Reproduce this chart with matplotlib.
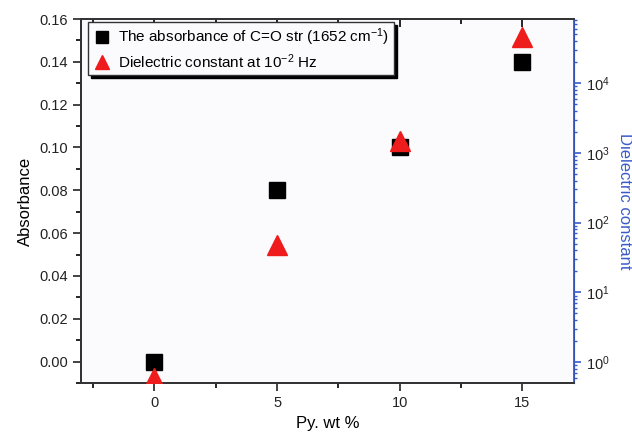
import numpy as np
import matplotlib
matplotlib.use("Agg")
import matplotlib.pyplot as plt
from matplotlib.ticker import MultipleLocator, LogLocator, NullFormatter

plt.rcParams["font.family"] = ["Liberation Sans", "DejaVu Sans"]
plt.rcParams["mathtext.default"] = "regular"

# dati
py_wt = [0, 5, 10, 15]
absorbance = [0.000, 0.080, 0.100, 0.140]
dielectric = [0.6, 48, 1500, 46000]

fig = plt.figure(figsize=(6.32, 4.38), dpi=100)
fig.patch.set_facecolor("white")
ax = fig.add_axes([0.128, 0.1256, 0.78, 0.831])
ax.set_facecolor("#fbfbfd")
ax2 = ax.twinx()

l1, = ax.plot(py_wt, absorbance, "s", color="black", markersize=11.5,
              label="The absorbance of C=O str (1652 cm$^{-1}$)", zorder=3)
l2, = ax2.plot(py_wt, dielectric, "^", color="#ee1c1c", markersize=14,
               label="Dielectric constant at 10$^{-2}$ Hz", zorder=4)

ax.set_xlim(-3, 17.1)
ax.set_ylim(-0.01, 0.16)
ax.xaxis.set_major_locator(MultipleLocator(5))
ax.xaxis.set_minor_locator(MultipleLocator(2.5))
ax.yaxis.set_major_locator(MultipleLocator(0.02))
ax.yaxis.set_minor_locator(MultipleLocator(0.01))
ax.yaxis.set_major_formatter(matplotlib.ticker.FormatStrFormatter("%.2f"))
ax.tick_params(axis="both", which="major", direction="out", length=6, width=1.2,
               labelsize=10.5, colors="#222222")
ax.tick_params(axis="both", which="minor", direction="out", length=3.5, width=1.2)
ax.set_xlabel("Py. wt %", fontsize=12)
ax.set_ylabel("Absorbance", fontsize=12)

ax2.set_yscale("log")
ax2.set_ylim(10 ** -0.30, 10 ** 4.92)
ax2.yaxis.set_major_locator(LogLocator(base=10, numticks=10))
ax2.yaxis.set_minor_locator(LogLocator(base=10, subs=np.arange(2, 10), numticks=10))
ax2.yaxis.set_minor_formatter(NullFormatter())
ax2.tick_params(axis="y", which="major", direction="out", length=5, width=1.2,
                color="#3a5bc7", labelsize=10.5, labelcolor="#222222")
ax2.tick_params(axis="y", which="minor", direction="out", length=2.5, width=1,
                color="#3a5bc7")
ax2.set_ylabel("Dielectric constant", fontsize=12, color="#3a5bc7",
               rotation=270, labelpad=16)
ax2.spines["right"].set_color("#3a5bc7")
ax2.spines["right"].set_linewidth(1.3)

for s in ["left", "bottom", "top"]:
    ax.spines[s].set_linewidth(1.3)
    ax2.spines[s].set_linewidth(1.3)
    ax.spines[s].set_color("#333333")
    ax2.spines[s].set_color("#333333")

# tick sul lato superiore verso l'interno
secx = ax.secondary_xaxis("top")
secx.xaxis.set_major_locator(MultipleLocator(5))
secx.xaxis.set_minor_locator(MultipleLocator(2.5))
secx.tick_params(which="major", direction="in", length=6, width=1.2, labeltop=False)
secx.tick_params(which="minor", direction="in", length=3.5, width=1.2)
secx.spines["top"].set_visible(False)

leg = ax2.legend(handles=[l1, l2], loc="upper left", bbox_to_anchor=(0.014, 0.992),
                 borderaxespad=0.0,
                 fontsize=11, frameon=True, fancybox=False,
                 shadow={"color": "black", "alpha": 1.0},
                 markerscale=0.7, handletextpad=0.4, borderpad=0.3,
                 labelspacing=0.25, handlelength=1.3)
leg.get_frame().set_edgecolor("#333333")
leg.get_frame().set_linewidth(1.0)
leg.get_frame().set_facecolor("#fbfbfd")

fig.savefig("out.png", dpi=100)
